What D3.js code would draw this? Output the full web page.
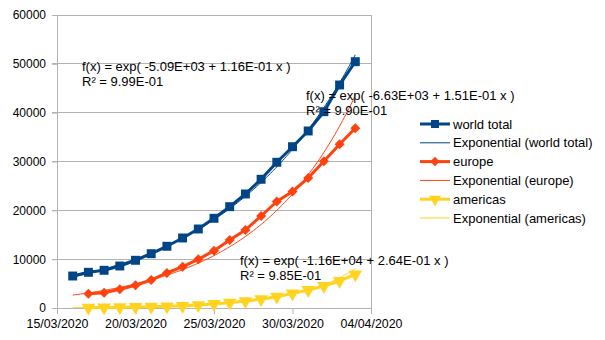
<!DOCTYPE html>
<html>
<head>
<meta charset="utf-8">
<script src="https://cdn.jsdelivr.net/npm/d3@7/dist/d3.min.js"></script>
<style>
  html, body { margin: 0; padding: 0; background: #fff; }
  svg { display: block; font-family: "Liberation Sans", Arial, sans-serif; }
</style>
</head>
<body>
<svg id="chart" width="605" height="340"></svg>
<script>
// ---- data ----
const dates = ["2020-03-16","2020-03-17","2020-03-18","2020-03-19","2020-03-20","2020-03-21",
  "2020-03-22","2020-03-23","2020-03-24","2020-03-25","2020-03-26","2020-03-27","2020-03-28",
  "2020-03-29","2020-03-30","2020-03-31","2020-04-01","2020-04-02","2020-04-03"];
const worldTotal = [6550, 7310, 7720, 8600, 9770, 11120, 12640, 14340, 16180, 18370,
  20750, 23350, 26360, 29840, 33030, 36250, 40200, 45670, 50440];
const europe = [null, 2930, 3130, 3830, 4650, 5730, 7170, 8460, 9970, 11740,
  13930, 15970, 18840, 21810, 23860, 26620, 30040, 33530, 36800];
const americas = [null, 85, 110, 150, 200, 260, 340, 440, 590, 820,
  1100, 1420, 1830, 2300, 3000, 3680, 4500, 5530, 6900];
const seriesNames = ["world total", "europe", "americas"];
const equations = [
  ["f(x) = exp( -5.09E+03 + 1.16E-01 x )", "R² = 9.99E-01"],
  ["f(x) = exp( -6.63E+03 + 1.51E-01 x )", "R² = 9.90E-01"],
  ["f(x) = exp( -1.16E+04 + 2.64E-01 x )", "R² = 9.85E-01"]
];
const yTicks = [0, 10000, 20000, 30000, 40000, 50000, 60000];
const xTicks = ["2020-03-15","2020-03-20","2020-03-25","2020-03-30","2020-04-04"];

// ---- setup ----
const parse = d3.utcParse("%Y-%m-%d");
const fmt = d3.utcFormat("%d/%m/%Y");
const colors = ["#004586", "#ff420e", "#ffd320"];
const symbols = [d3.symbolSquare, d3.symbolSquare, d3.symbolTriangle];
const rotations = [0, 45, 180];
const sizes = [80, 50, 80];
const svg = d3.select("#chart");
const L = 57, R = 371, T = 15, B = 308;
const x = d3.scaleUtc().domain([parse(xTicks[0]), parse(xTicks[xTicks.length-1])]).range([L, R]);
const y = d3.scaleLinear().domain([0, 60000]).range([B, T]);

// grid
svg.append("g").selectAll("line").data(yTicks).join("line")
  .attr("x1", L - 5).attr("x2", R).attr("y1", d => y(d)).attr("y2", d => y(d))
  .attr("stroke", "#b3b3b3").attr("stroke-width", 1).attr("shape-rendering", "crispEdges");
svg.append("line").attr("x1", R).attr("x2", R).attr("y1", T).attr("y2", B)
  .attr("stroke", "#b3b3b3").attr("shape-rendering", "crispEdges");

// y axis
const yAxis = svg.append("g").attr("transform", `translate(${L},0)`)
  .call(d3.axisLeft(y).tickValues(yTicks).tickSize(5).tickPadding(6).tickFormat(d3.format("d")));
yAxis.select(".domain").attr("stroke", "#b3b3b3");
yAxis.selectAll(".tick line").attr("stroke", "#b3b3b3");
yAxis.selectAll("text").attr("font-size", 12).attr("fill", "#000")
  .attr("font-family", "Liberation Sans, Arial, sans-serif");

// x axis
const xAxis = svg.append("g").attr("transform", `translate(0,${B})`)
  .call(d3.axisBottom(x).tickValues(xTicks.map(parse)).tickSize(6).tickPadding(5).tickFormat(fmt));
xAxis.select(".domain").attr("stroke", "#b3b3b3");
xAxis.selectAll(".tick line").attr("stroke", "#b3b3b3");
xAxis.selectAll("text").attr("font-size", 12.4).attr("fill", "#000")
  .attr("font-family", "Liberation Sans, Arial, sans-serif");

// series
const allSeries = [worldTotal, europe, americas];
const t0 = parse(dates[0]);
const dayOf = d => (d - t0) / 86400000;
function expFit(vals) {
  const pts = vals.map((v, i) => [dayOf(parse(dates[i])), v]).filter(p => p[1] != null && p[1] > 0);
  const mx = d3.mean(pts, p => p[0]);
  const my = d3.mean(pts, p => Math.log(p[1]));
  const b = d3.sum(pts, p => (p[0]-mx)*(Math.log(p[1])-my)) / d3.sum(pts, p => (p[0]-mx)**2);
  const a = my - b*mx;
  return t => Math.exp(a + b*t);
}
const line = d3.line().defined(d => d.v != null).x(d => x(d.date)).y(d => y(d.v));
const dEnd = dayOf(parse(dates[dates.length-1]));

allSeries.forEach((vals, si) => {
  const data = vals.map((v, i) => ({date: parse(dates[i]), v}));
  const g = svg.append("g");
  g.append("path").datum(data).attr("d", line).attr("fill", "none")
    .attr("stroke", colors[si]).attr("stroke-width", 3).attr("stroke-linejoin", "round");
  g.selectAll("path.m").data(data.filter(d => d.v != null)).join("path").attr("class", "m")
    .attr("transform", d => `translate(${x(d.date)},${y(d.v)}) rotate(${rotations[si]})`)
    .attr("d", d3.symbol().type(symbols[si]).size(sizes[si]))
    .attr("fill", colors[si]);
  const f = expFit(vals);
  const tr = d3.range(0, dEnd + 0.0001, 0.1).map(t => ({date: new Date(t0.getTime() + t*86400000), v: f(t)}));
  g.append("path").datum(tr).attr("d", line).attr("fill", "none")
    .attr("stroke", colors[si]).attr("stroke-width", 1);
});

// equations
const eqPos = [[82, 71], [306, 100], [240, 265]];
equations.forEach((eq, i) => {
  const t = svg.append("text").attr("font-size", 13).attr("fill", "#000");
  eq.forEach((s, k) => t.append("tspan").attr("x", eqPos[i][0]).attr("y", eqPos[i][1] + k*15).text(s));
});

// legend
const legendItems = [];
seriesNames.forEach((n, i) => {
  legendItems.push({label: n, c: colors[i], marker: true, si: i});
  legendItems.push({label: `Exponential (${n})`, c: colors[i], marker: false, si: i});
});
const lg = svg.append("g");
legendItems.forEach((it, i) => {
  const yy = 124 + i * 18.8;
  lg.append("line").attr("x1", 420).attr("x2", 450).attr("y1", yy).attr("y2", yy)
    .attr("stroke", it.c).attr("stroke-width", it.marker ? 3 : 1);
  if (it.marker) {
    lg.append("path").attr("transform", `translate(435,${yy}) rotate(${rotations[it.si]})`)
      .attr("d", d3.symbol().type(symbols[it.si]).size(it.si === 1 ? 45 : 64)).attr("fill", it.c);
  }
  lg.append("text").attr("x", 453).attr("y", yy + 4.5).attr("font-size", 13).attr("fill", "#000").text(it.label);
});
</script>
</body>
</html>
